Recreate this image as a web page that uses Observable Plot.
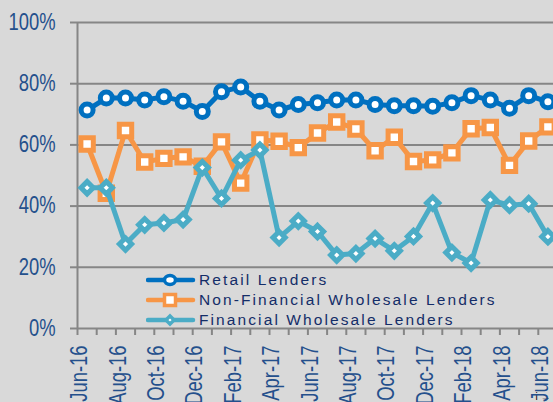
<!DOCTYPE html>
<html><head><meta charset="utf-8">
<script src="https://cdn.jsdelivr.net/npm/d3@7"></script>
<script src="https://cdn.jsdelivr.net/npm/@observablehq/plot@0.6"></script>
<style>
html,body{margin:0;padding:0;background:#d9d9d9;overflow:hidden}
#wrap{position:relative;width:553px;height:402px;overflow:hidden}
#legend{position:absolute;left:146px;top:270px;font-family:Arial,"Liberation Sans",sans-serif;font-size:15.5px;letter-spacing:2.1px;color:#142d68}
.row{height:20px;display:flex;align-items:center;white-space:nowrap}
.row svg{margin-right:3px}
</style></head><body><div id="wrap"><div id="chart"></div><div id="legend"></div></div>
<script>
const months = ["Jun-16","Jul-16","Aug-16","Sep-16","Oct-16","Nov-16","Dec-16","Jan-17","Feb-17","Mar-17","Apr-17","May-17","Jun-17","Jul-17","Aug-17","Sep-17","Oct-17","Nov-17","Dec-17","Jan-18","Feb-18","Mar-18","Apr-18","May-18","Jun-18"];
const retail = [71.4,75.3,75.3,74.7,75.7,74.3,70.9,77.4,78.9,74.3,71.4,73.2,73.8,74.7,74.7,73.2,72.8,72.8,72.6,73.8,76.1,74.7,72.0,76.1,74.1];
const nonFinancial = [60.3,44.2,64.7,54.4,55.6,56.1,53.0,61.0,47.5,61.6,61.2,59.1,63.9,67.5,65.2,58.1,62.5,54.6,55.1,57.4,65.3,65.7,53.3,61.3,65.9];
const financial = [46.0,46.0,27.6,33.9,34.5,35.6,52.6,42.5,55.0,58.3,29.7,35.1,31.7,24.0,24.5,29.4,25.4,30.1,41.0,24.8,21.4,42.0,40.3,40.8,30.0];
const seriesNames = ["Retail Lenders","Non-Financial Wholesale Lenders","Financial Wholesale Lenders"];
const seriesColors = ["#0070c0","#f79646","#4bacc6"];
const seriesSymbols = ["circle","square","diamond2"];
const yTicks = [0,20,40,60,80,100];

const rows = months.map((m, i) => ({i, m, retail: retail[i], nonFinancial: nonFinancial[i], financial: financial[i]}));
const keys = ["retail","nonFinancial","financial"];
const radii = [6, 7, 5.5];
const boundaries = d3.range(months.length + 1).map(i => i - 0.5);
const labelFont = "'Liberation Sans',Arial,sans-serif";
const labelColor = "#24508c";

const seriesMarks = keys.flatMap((k, s) => [
  Plot.line(rows, {x: "i", y: k, stroke: seriesColors[s], strokeWidth: 5, strokeLinejoin: "round"}),
  Plot.dot(rows, {x: "i", y: k, symbol: seriesSymbols[s], r: radii[s], fill: "white", stroke: seriesColors[s], strokeWidth: 5})
]);

const chart = Plot.plot({
  width: 553, height: 402,
  marginLeft: 77, marginRight: -4, marginTop: 22, marginBottom: 74,
  style: {background: "#d9d9d9", fontFamily: labelFont},
  x: {type: "linear", domain: [-0.5, months.length - 0.5], axis: null},
  y: {domain: [0, 100], axis: null},
  marks: [
    Plot.ruleY(yTicks.filter(t => t > 0), {stroke: "#868686", strokeWidth: 2}),
    Plot.axisY(yTicks, {tickSize: 7, tickPadding: 15, tickFormat: d => d + "%", stroke: "#868686", strokeWidth: 2, fill: labelColor, fontSize: 23, fontFamily: labelFont, className: "narrow"}),
    Plot.axisX(boundaries, {tickSize: 7, tickFormat: () => "", stroke: "#868686", strokeWidth: 2}),
    Plot.ruleX([-0.5], {stroke: "#868686", strokeWidth: 2}),
    Plot.ruleY([0], {stroke: "#868686", strokeWidth: 2}),
    Plot.text(rows.filter(d => d.i % 2 === 0), {x: "i", frameAnchor: "bottom", text: "m", rotate: -90, textAnchor: "end", dy: 17, fill: labelColor, fontSize: 23, fontFamily: labelFont, className: "narrow"}),
    ...seriesMarks
  ]
});
document.getElementById("chart").appendChild(chart);
// Narrow the axis label glyphs along the text direction (emulates a condensed face)
chart.querySelectorAll(".narrow text").forEach(t => {
  const tr = t.getAttribute("transform") || "";
  t.setAttribute("transform", tr + " scale(0.8,1)");
  if (t.hasAttribute("x")) t.setAttribute("x", +t.getAttribute("x") / 0.8);
});

const legend = document.getElementById("legend");
const symPaths = {
  circle: '<ellipse cx="24" cy="10" rx="5.5" ry="4.5" fill="white" stroke="C" stroke-width="3.5"/>',
  square: '<rect x="18.5" y="4.5" width="11" height="11" fill="white" stroke="C" stroke-width="3.5"/>',
  diamond2: '<path d="M24 6 L28 10 L24 14 L20 10 Z" fill="white" stroke="C" stroke-width="3.5"/>'
};
seriesNames.forEach((name, s) => {
  const row = document.createElement("div");
  row.className = "row";
  row.innerHTML = `<svg width="50" height="20"><line x1="2" x2="47" y1="10" y2="10" stroke="${seriesColors[s]}" stroke-width="4.5" stroke-linecap="round"/>${symPaths[seriesSymbols[s]].replace("C", seriesColors[s])}</svg><span>${name}</span>`;
  legend.appendChild(row);
});
</script></body></html>
